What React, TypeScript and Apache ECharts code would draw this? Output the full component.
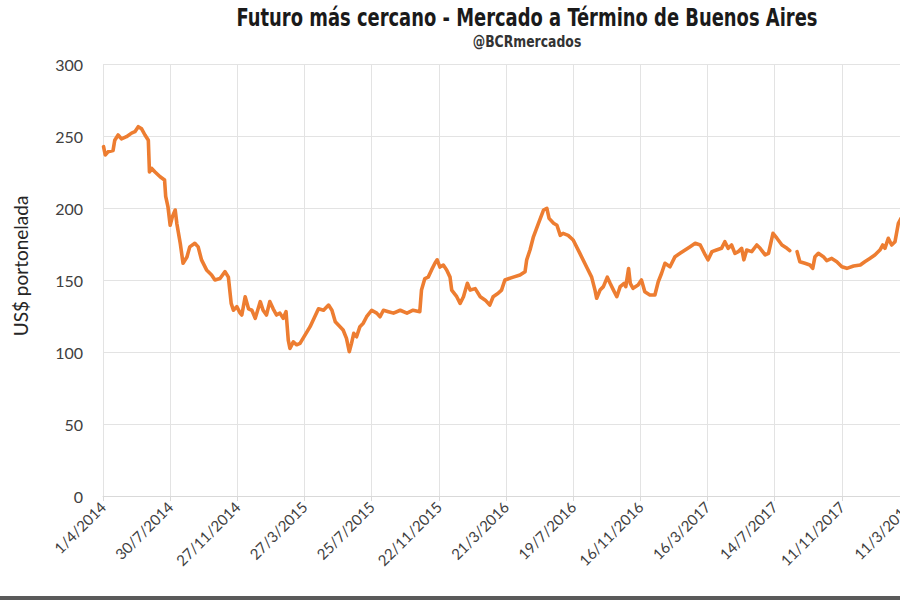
import React, { useEffect, useRef } from "react";
import * as echarts from "echarts";

// Days since 1/4/2014 and price (US$/t)
const dayOffsets: number[] = [
  1, 4, 9, 18, 21, 27, 33, 42, 51, 57, 63, 69, 75, 81, 83, 87, 93, 102, 110, 112,
  116, 120, 124, 129, 132, 138, 143, 150, 155, 164, 170, 176, 185, 194, 200, 209, 218, 224, 229, 233,
  239, 245, 248, 254, 260, 266, 272, 281, 286, 292, 298, 304, 310, 316, 322, 327, 331, 334, 340, 346,
  352, 370, 385, 394, 403, 409, 415, 429, 435, 440, 444, 448, 453, 459, 465, 471, 480, 489, 495, 501,
  510, 519, 531, 543, 554, 566, 569, 575, 581, 587, 593, 597, 602, 608, 614, 620, 623, 632, 638, 644,
  651, 656, 665, 674, 683, 691, 697, 706, 712, 718, 733, 745, 754, 757, 763, 769, 778, 787, 793, 797,
  805, 811, 817, 822, 831, 840, 852, 864, 873, 879, 882, 888, 894, 901, 906, 912, 918, 924, 931, 934,
  939, 942, 947, 956, 962, 968, 977, 986, 992, 998, 1004, 1013, 1022, 1031, 1040, 1049, 1058, 1067, 1076, 1081,
  1088, 1096, 1105, 1111, 1117, 1123, 1129, 1135, 1141, 1145, 1150, 1159, 1168, 1174, 1183, 1189, 1193, 1197, 1204, 1213,
  1222, 1227, 1233, 1240, 1245, 1254, 1263, 1268, 1272, 1278, 1287, 1293, 1302, 1311, 1320, 1329, 1341, 1353, 1361, 1370,
  1379, 1388, 1393, 1397, 1403, 1409, 1415, 1421, 1426,
];

const prices: (number | null)[] = [
  242.6, 236.8, 239, 240, 247, 250.7, 248, 249.5, 252, 253, 256.5, 255, 250.7, 247, 225, 227.5, 225, 221.7, 219.4, 208,
  201, 188, 194, 198.6, 189, 175.5, 161.6, 166, 173, 175.5, 173, 164, 157, 153.5, 150, 151, 155.8, 152, 133.8, 129,
  131.5, 127, 125.7, 138.4, 130, 129, 123.4, 135, 129, 125.7, 135, 130, 125.7, 127, 123.4, 128, 108.3, 102.5, 107, 105,
  106, 117.6, 130, 129, 132.6, 129, 121, 115.3, 109.5, 100.2, 106, 113, 110.6, 117.6, 120, 124.5, 129, 127, 124.5, 129,
  128, 127, 129, 127, 129, 128, 143, 151, 152, 157, 161.6, 164, 159, 160.4, 157, 152, 143, 138.4, 133.8, 138.4,
  147.7, 143, 144, 138.4, 136, 132.6, 138.4, 140.8, 143, 150, 152, 153.5, 155.8, 164, 171, 180, 189.4, 198.6, 199.8, 192.8,
  189.4, 188, 181, 182.4, 181, 177.8, 168.5, 159, 152, 143, 137.3, 143, 145.4, 152, 147.7, 143, 138.4, 145.4, 147.7, 145.4,
  158, 147.7, 144.2, 146.5, 150, 141.9, 139.6, 139.6, 148.8, 154.7, 161.6, 159.2, 166.2, 168.5, 170.8, 173.1, 175.5, 174.3, 167.4, 164,
  169.7, 170.8, 172, 176.6, 172, 174.3, 168.5, 169.7, 172, 164, 170.8, 169.7, 174.3, 172, 167.4, 168.5, 175.5, 182.4, 179, 174.3,
  172, 170.4, null, 169.7, 162.7, 161.6, 160.4, 158.1, 166.2, 168.5, 166.2, 163.4, 165, 162.7, 159.2, 158.1, 159.7, 160.4, 162.7, 165,
  167.4, 170.8, 174.3, 172, 179, 174.3, 176.6, 189.4, 193,
];

const xTickLabels: string[] = [
  "1/4/2014", "30/7/2014", "27/11/2014", "27/3/2015", "25/7/2015", "22/11/2015", "21/3/2016",
  "19/7/2016", "16/11/2016", "16/3/2017", "14/7/2017", "11/11/2017", "11/3/2018",
];

const TITLE = "Futuro más cercano - Mercado a Término de Buenos Aires";
const SUBTITLE = "@BCRmercados";
const Y_NAME = "US$ portonelada";
const TICK_DAYS = 120;

export default function App() {
  const ref = useRef<HTMLDivElement>(null);

  useEffect(() => {
    if (!ref.current) return;
    const chart = echarts.init(ref.current, undefined, { renderer: "svg" });
    const seriesData = dayOffsets.map((d, i) => [d, prices[i] === null ? "-" : prices[i]]);
    const condensed = "'DejaVu Sans Condensed', 'Liberation Sans Narrow', sans-serif";
    chart.setOption({
      animation: false,
      backgroundColor: "#ffffff",
      grid: { left: 103, top: 64, width: 806, height: 432, containLabel: false },
      xAxis: {
        type: "value",
        min: 0,
        max: TICK_DAYS * (xTickLabels.length - 1),
        interval: TICK_DAYS,
        axisLine: { show: true, lineStyle: { color: "#d9d9d9", width: 1 } },
        axisTick: { show: true, length: 5, lineStyle: { color: "#d9d9d9" } },
        splitLine: { show: true, lineStyle: { color: "#e3e3e3", width: 1 } },
        axisLabel: {
          rotate: 45,
          margin: 8,
          fontFamily: "Lato, 'Noto Sans', sans-serif",
          fontSize: 15,
          color: "#404040",
          showMinLabel: true,
          showMaxLabel: true,
          formatter: (v: number) => xTickLabels[Math.round(v / TICK_DAYS)] ?? "",
        },
      },
      yAxis: {
        type: "value",
        min: 0,
        max: 300,
        interval: 50,
        axisLine: { show: false },
        axisTick: { show: false },
        splitLine: { show: true, lineStyle: { color: "#e3e3e3", width: 1 } },
        axisLabel: {
          margin: 20,
          fontFamily: "Lato, 'Noto Sans', sans-serif",
          fontSize: 16,
          color: "#404040",
        },
      },
      series: [
        {
          type: "line",
          data: seriesData,
          showSymbol: false,
          connectNulls: false,
          lineStyle: { color: "#ED7D31", width: 3.6, join: "round", cap: "round" },
          itemStyle: { color: "#ED7D31" },
        },
      ],
      graphic: [
        {
          type: "text",
          x: 527,
          y: 18,
          scaleX: 0.83,
          style: {
            text: TITLE,
            font: `bold 24px ${condensed}`,
            fill: "#1a1a1a",
            textAlign: "center",
            textVerticalAlign: "middle",
          },
        },
        {
          type: "text",
          x: 527,
          y: 42,
          scaleX: 0.92,
          style: {
            text: SUBTITLE,
            font: `bold 15px ${condensed}`,
            fill: "#333333",
            textAlign: "center",
            textVerticalAlign: "middle",
          },
        },
        {
          type: "text",
          x: 20,
          y: 266,
          rotation: Math.PI / 2,
          style: {
            text: Y_NAME,
            font: "19px Lato, 'Noto Sans', sans-serif",
            fill: "#262626",
            textAlign: "center",
            textVerticalAlign: "middle",
          },
        },
        {
          type: "rect",
          left: 0,
          top: 596,
          shape: { width: 960, height: 4 },
          style: { fill: "#5a5a5a" },
        },
      ],
    });
    return () => chart.dispose();
  }, []);

  return (
    <div
      style={{
        position: "fixed",
        left: 0,
        top: 0,
        width: 900,
        height: 600,
        overflow: "hidden",
        background: "#fff",
      }}
    >
      <div ref={ref} style={{ width: 960, height: 600 }} />
    </div>
  );
}
